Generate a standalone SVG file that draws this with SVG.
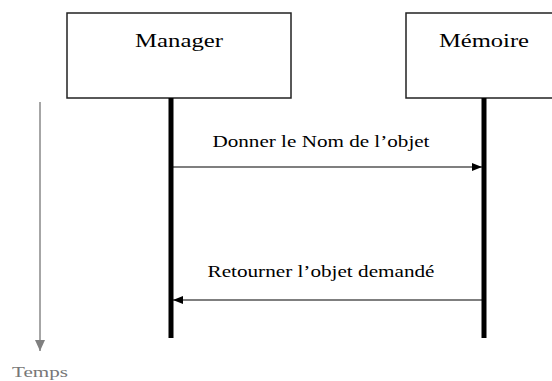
<svg xmlns="http://www.w3.org/2000/svg" width="552" height="381" viewBox="0 0 552 381">
<style>
.box{fill:#fff;stroke:#222;stroke-width:1.5}
.life{stroke:#000;stroke-width:5}
.msg{stroke:#000;stroke-width:1.2;fill:none}
.t{font-family:"Liberation Serif","DejaVu Serif",serif;fill:#000}
</style>
<defs>
<marker id="ah" markerWidth="10" markerHeight="8" refX="10" refY="4" orient="auto" markerUnits="userSpaceOnUse">
<path d="M0,0 L10,4 L0,8 Z" fill="#000"/>
</marker>
<marker id="gh" markerWidth="11" markerHeight="10" refX="11" refY="5" orient="auto" markerUnits="userSpaceOnUse">
<path d="M0,0 L11,5 L0,10 Z" fill="#808080"/>
</marker>
</defs>
<rect width="552" height="381" fill="#fff"/>
<g id="manager">
<rect class="box" x="67" y="13" width="224" height="85"/>
<text class="t" x="179" y="47" font-size="18" text-anchor="middle" textLength="88" lengthAdjust="spacingAndGlyphs">Manager</text>
<line class="life" x1="171" y1="98" x2="171" y2="338"/>
</g>
<g id="memoire">
<rect class="box" x="406" y="13" width="160" height="85"/>
<text class="t" x="484" y="47" font-size="18" text-anchor="middle" textLength="90" lengthAdjust="spacingAndGlyphs">Mémoire</text>
<line class="life" x1="484" y1="98" x2="484" y2="338"/>
</g>
<g id="connectors">
<line class="msg" x1="173" y1="167" x2="482" y2="167" marker-end="url(#ah)"/>
<text class="t" x="321" y="147" font-size="16" text-anchor="middle" textLength="217" lengthAdjust="spacingAndGlyphs">Donner le Nom de l’objet</text>
<line class="msg" x1="482" y1="300" x2="173" y2="300" marker-end="url(#ah)"/>
<text class="t" x="321" y="277" font-size="16" text-anchor="middle" textLength="227" lengthAdjust="spacingAndGlyphs">Retourner l’objet demandé</text>
</g>
<g id="temps">
<line x1="40" y1="102" x2="40" y2="351" stroke="#888" stroke-width="1.5" marker-end="url(#gh)"/>
<text x="40" y="377" font-family="Liberation Serif, DejaVu Serif, serif" font-size="14" fill="#777" text-anchor="middle" textLength="56" lengthAdjust="spacingAndGlyphs">Temps</text>
</g>
</svg>
